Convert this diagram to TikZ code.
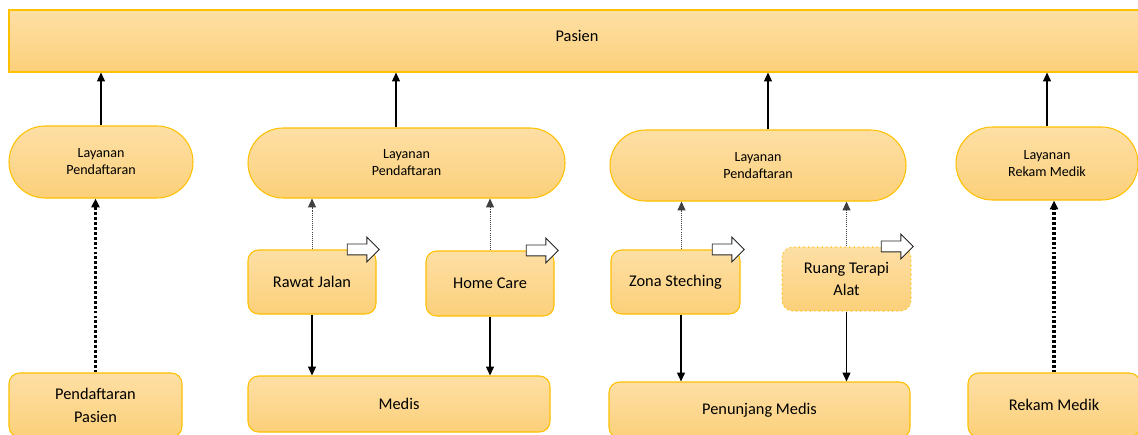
\documentclass[tikz,border=0pt]{standalone}
\usepackage{fontspec}
\setmainfont{Carlito}
\usetikzlibrary{arrows.meta,shapes.arrows}
\definecolor{emas}{RGB}{255,192,0}
\definecolor{krematas}{RGB}{253,223,165}
\definecolor{krembawah}{RGB}{252,208,122}

\begin{document}
\begin{tikzpicture}[
        garis/.style={black, line width=0.6pt},
        titiktipis/.style={black!75, line width=0.4pt, dash pattern=on 0.6pt off 0.6pt},
        titiktebal/.style={black, line width=1.8pt, dash pattern=on 1.6pt off 1.2pt, >={Triangle[length=6pt,width=6pt]}}]
                \useasboundingbox (0,0) rectangle (22.76,8.68);
                \begin{scope}[every node/.style={draw=emas, line width=0.6pt, top color=krematas, bottom color=krembawah, align=center, inner sep=1pt, rounded corners=6pt, font=\fontsize{9.3}{13}\selectfont}]
                        \node [minimum width=22.72cm, minimum height=1.24cm, rounded corners=0pt, text depth=0.2cm] (P) at (11.54,7.86) {Pasien};
                        \begin{scope}[every node/.append style={font=\fontsize{8}{9.7}\selectfont}]
                                \node [minimum width=3.68cm, minimum height=1.44cm, rounded corners=0.72cm] (L1) at (2.02,5.44) {Layanan\\Pendaftaran};
                                \node [minimum width=6.34cm, minimum height=1.40cm, rounded corners=0.70cm] (L2) at (8.13,5.42) {Layanan\\Pendaftaran};
                                \node [minimum width=5.92cm, minimum height=1.42cm, rounded corners=0.71cm] (L3) at (15.16,5.37) {Layanan\\Pendaftaran};
                                \node [minimum width=3.64cm, minimum height=1.46cm, rounded corners=0.73cm] (L4) at (20.94,5.41) {Layanan\\Rekam Medik};
                        \end{scope}
                        \node [minimum width=2.56cm, minimum height=1.28cm] (RJ) at (6.24,3.04) {Rawat Jalan};
                        \node [minimum width=2.56cm, minimum height=1.30cm] (HC) at (9.80,3.01) {Home Care};
                        \node [minimum width=2.58cm, minimum height=1.28cm] (ZS) at (13.51,3.04) {Zona Steching};
                        \node [minimum width=2.58cm, minimum height=1.28cm, dotted] (RT) at (16.93,3.10) {Ruang Terapi\\Alat};
                        \node [minimum width=3.46cm, minimum height=1.28cm] (PP) at (1.91,0.58) {Pendaftaran\\Pasien};
                        \node [minimum width=6.04cm, minimum height=1.12cm] (M) at (7.98,0.60) {Medis};
                        \node [minimum width=6.02cm, minimum height=1.12cm] (PM) at (15.19,0.48) {Penunjang Medis};
                        \node [minimum width=3.44cm, minimum height=1.28cm] (RM) at (21.08,0.58) {Rekam Medik};
                \end{scope}
                % panah kosong di pojok kotak
                \begin{scope}[every node/.style={single arrow, draw=black!85, fill=white, line width=0.5pt, minimum height=0.64cm, minimum width=0pt, single arrow head extend=0.14cm, single arrow head indent=0pt, inner xsep=0pt, inner ysep=0.1cm}]
                        \node (kRJ) at ([xshift=-0.32cm]RJ.north east) {};
                        \node (kHC) at ([xshift=-0.30cm]HC.north east) {};
                        \node (kZS) at ([xshift=-0.30cm]ZS.north east) {};
                        \node (kRT) at ([xshift=-0.34cm]RT.north east) {};
                \end{scope}
                \coordinate (a2) at ([xshift=-2.1mm]L2.north);
                \coordinate (a3) at ([xshift=2mm]L3.north);
                \coordinate (zs) at ([xshift=1.2mm]ZS.north);
                \coordinate (zb) at ([xshift=1.1mm]ZS.south);
                \begin{scope}[every path/.style={->, >={Triangle[length=5pt,width=4.5pt]}}]
                        \path [garis] (L1.north) edge (L1.north |- P.south);
                        \path [garis] (a2) edge (a2 |- P.south);
                        \path [garis] (a3) edge (a3 |- P.south);
                        \path [garis] (L4.north) edge (L4.north |- P.south);
                        \path [titiktebal] (PP.north) edge (PP.north |- L1.south);
                        \path [titiktebal] (RM.north) edge (RM.north |- L4.south);
                        \path [titiktipis] (RJ.north) edge (RJ.north |- L2.south);
                        \path [titiktipis] (HC.north) edge (HC.north |- L2.south);
                        \path [titiktipis] (zs) edge (zs |- L3.south);
                        \path [titiktipis] (RT.north) edge (RT.north |- L3.south);
                        \path [garis] (RJ.south) edge (RJ.south |- M.north);
                        \path [garis] (HC.south) edge (HC.south |- M.north);
                        \path [garis] (zb) edge (zb |- PM.north);
                        \path [garis] (RT.south) edge (RT.south |- PM.north);
                \end{scope}
        \end{tikzpicture}
\end{document}
